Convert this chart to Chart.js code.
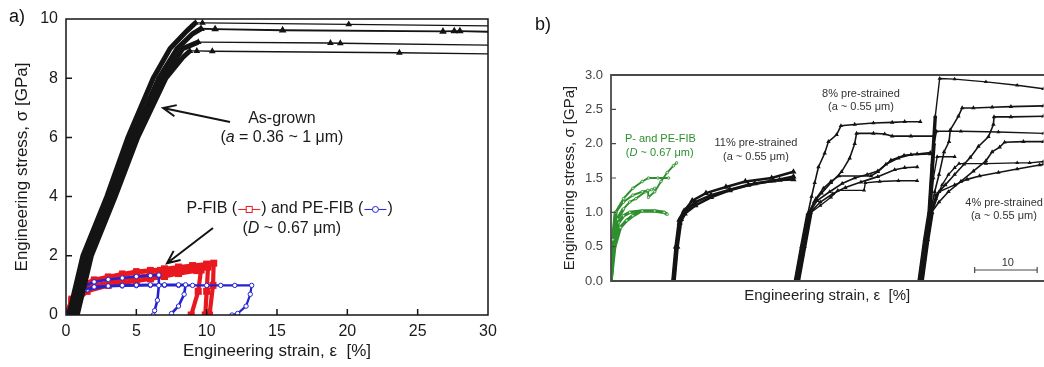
<!DOCTYPE html>
<html>
<head>
<meta charset="utf-8">
<script src="https://cdn.jsdelivr.net/npm/chart.js@4.4.1/dist/chart.umd.min.js"></script>
<style>
  html, body { margin: 0; padding: 0; background: #fff; overflow: hidden; width: 1044px; height: 367px; }
  canvas { position: absolute; top: 0; }
  .panel { position: absolute; font-family: "Liberation Sans", Arial, sans-serif; font-size: 18px; color: #111; }
</style>
</head>
<body>
<canvas id="grafico-a" width="520" height="367" style="left:0"></canvas>
<canvas id="grafico-b" width="530" height="367" style="left:520px"></canvas>
<div class="panel" style="left:9px;top:6px">a)</div>
<div class="panel" style="left:535px;top:14px">b)</div>
<script>
// ---------- panel a) : strain [%], stress [GPa] ----------
const ticksA_x = [0, 5, 10, 15, 20, 25, 30];
const ticksA_y = [0, 2, 4, 6, 8, 10];

// as-grown, elastic rise (thick band)
const subidaA = [[0.2,0],[1.2,2],[2.9,4],[4.4,6],[6.2,8],[7.4,9],[8.6,9.6],[9.2,9.87]];
const subidaB = [[0.4,0],[1.4,2],[3.1,4],[4.7,6],[6.6,8],[7.9,9],[9.0,9.5],[9.6,9.67]];
const subidaC = [[0.6,0],[1.6,2],[3.3,4],[4.9,6],[6.9,8],[8.3,9],[9.4,9.22]];
const subidaD = [[0.8,0],[1.8,2],[3.5,4],[5.1,6],[7.1,8],[8.3,8.7],[8.8,8.92]];
// as-grown, plateaus after burst
const mesetaA = [[9.2,9.87],[9.7,9.87],[20.1,9.82],[30,9.77]];
const mesetaB = [[9.6,9.67],[10.6,9.66],[15.4,9.62],[26.8,9.58],[27.6,9.59],[28.0,9.59],[30,9.57]];
const mesetaC = [[9.4,9.22],[18.8,9.19],[19.5,9.18],[30,9.12]];
const mesetaD = [[8.8,8.92],[9.3,8.92],[10.4,8.91],[23.7,8.86],[30,8.82]];
// P-FIB (red, squares)
const pfibA = [[0,0],[0.4,0.5],[1,0.9],[2,1.15],[3,1.26],[4,1.35],[5,1.43],[6,1.5],[7,1.56],[8,1.62],[9,1.67],[10,1.72],[10.5,1.75],[10.45,1.0],[10.2,0]];
const pfibB = [[0,0],[0.5,0.5],[1.2,0.85],[2,1.0],[3,1.1],[4,1.2],[5,1.28],[6,1.35],[7,1.43],[8,1.5],[9,1.56],[9.8,1.62],[10.1,1.62],[10.0,0.8],[9.9,0]];
const pfibC = [[0,0],[0.6,0.4],[1.5,0.8],[3,1.0],[4,1.08],[5,1.15],[6,1.22],[7,1.3],[8,1.4],[9.3,1.5],[9.6,1.52],[9.4,0.8],[8.9,0]];
const pfibD = [[0,0],[0.4,0.55],[1.0,1.0],[2,1.2],[3,1.3],[4,1.4],[5,1.48],[6,1.52],[6.7,1.52]];
// PE-FIB (blue, circles)
const pefibA = [[0,0],[0.5,0.5],[1.2,0.95],[2,1.12],[3,1.2],[4,1.25],[5,1.3],[6,1.33],[6.6,1.35],[6.6,1.0],[6.5,0.5],[6.3,0.15],[6.2,0]];
const pefibB = [[0,0],[0.6,0.5],[1.3,0.85],[2,0.95],[3,0.98],[4,1.0],[5,1.01],[6,1.02],[7,1.02],[8,1.02],[8.5,1.02],[8.4,0.7],[8.0,0.3],[7.5,0.05]];
const pefibC = [[0,0],[0.7,0.5],[1.5,0.85],[3,0.97],[4,0.98],[5,0.99],[6,1.0],[7,1.0],[8,1.0],[9,1.0],[10,1.0],[11,1.0],[12,1.0],[13.2,1.0],[13.1,0.7],[12.8,0.3],[12.2,0.05],[11.8,0]];

// ---------- panel b) : offset strain [%], stress [GPa] ----------
const ticksB_y = [0, 0.5, 1.0, 1.5, 2.0, 2.5, 3.0];

const verdeA = [[0,0],[0.3,0.6],[0.7,1.0],[2,1.2],[3.5,1.35],[5,1.45],[6,1.5],[7.5,1.5],[9.2,1.5]];
const verdeB = [[0,0],[0.3,0.6],[0.8,1.0],[2,1.15],[3.5,1.25],[5,1.3],[5.9,1.32],[6.0,1.22],[7,1.3],[8,1.45],[9,1.58],[10,1.68],[10.5,1.72]];
const verdeC = [[0,0],[0.4,0.55],[1.0,0.9],[2,1.05],[3,1.15],[4,1.2],[5.5,1.3],[6.5,1.33],[7,1.35]];
const verdeD = [[0,0],[0.5,0.6],[1.2,0.85],[2,0.95],[3,1.0],[5,1.02],[7,1.02],[8.5,1.0],[9,0.97]];
const verdeE = [[0,0],[0.6,0.5],[1.5,0.78],[2.5,0.88],[3.5,0.95],[4.5,1.0]];

const pre11A = [[9.9,0],[10.4,0.5],[10.95,0.89],[11.7,1.02],[13,1.17],[15.2,1.28],[18.4,1.37],[21.5,1.45],[25.7,1.5],[29.2,1.59]];
const pre11B = [[10.1,0],[10.6,0.5],[11.2,0.9],[12,1.03],[13.5,1.15],[16,1.25],[19,1.33],[22,1.4],[26,1.46],[29.2,1.52]];
const pre11C = [[10.0,0],[10.5,0.5],[11.0,0.85],[11.8,0.98],[13.5,1.1],[16,1.22],[19,1.32],[23,1.42],[27,1.47],[29.2,1.48]];

const pre8A = [[29.5,0],[30.5,0.5],[31.5,0.98],[32.1,1.23],[32.6,1.43],[33.2,1.66],[34.2,1.86],[34.8,2.03],[36.1,2.13],[36.8,2.26],[39,2.28],[42,2.3],[45,2.31],[47,2.32],[49.5,2.32]];
const pre8B = [[29.6,0],[30.6,0.5],[31.6,0.98],[32.5,1.15],[33.7,1.28],[35.2,1.43],[36.9,1.59],[38.2,1.79],[39,2.0],[39.3,2.15],[42,2.15],[43.8,2.14],[45,2.11],[48,2.11],[51.7,2.11]];
const pre8C = [[29.7,0],[30.7,0.5],[31.7,1.0],[32.8,1.2],[34,1.35],[35.2,1.45],[36.5,1.53],[41.6,1.53],[42.7,1.59],[44.8,1.76],[46.9,1.83],[49,1.85],[51.1,1.87]];
const pre8D = [[29.8,0],[30.8,0.5],[31.8,1.0],[33,1.17],[35,1.3],[37,1.42],[39,1.5],[41,1.55],[42.7,1.6],[44,1.7],[46,1.79],[48,1.84],[51.1,1.85]];
const pre8E = [[29.9,0],[30.9,0.5],[31.9,1.0],[33.5,1.15],[35.5,1.27],[37.5,1.36],[40,1.44],[42.7,1.52],[45.4,1.62],[47,1.65],[49,1.66]];
const pre8F = [[30,0],[31,0.5],[32,1.0],[33.5,1.1],[35.2,1.22],[36.3,1.32],[40.5,1.32],[40.7,1.43],[43,1.45],[46,1.46],[49,1.46]];

const pre4A = [[49.3,0],[50.2,0.6],[50.9,1.0],[51.4,1.7],[51.9,2.4],[52.6,2.95],[55,2.94],[60,2.9],[65,2.85],[69.2,2.8]];
const pre4B = [[49.4,0],[50.3,0.6],[51.0,1.0],[51.4,1.6],[51.7,2.0],[52.1,2.18],[56,2.18],[62,2.17],[69.2,2.15]];
const pre4C = [[49.5,0],[50.4,0.6],[51.1,1.0],[51.8,1.3],[52.5,1.55],[53.3,1.88],[54.1,2.03],[54.3,2.2],[55.6,2.4],[56.2,2.52],[58,2.52],[61,2.53],[64,2.54],[69.2,2.55]];
const pre4D = [[49.6,0],[50.5,0.6],[51.2,1.0],[52,1.25],[53.5,1.4],[55,1.55],[56.5,1.7],[57.5,1.8],[58.8,1.96],[60.4,2.1],[61.2,2.28],[61.3,2.39],[64,2.39],[69.2,2.4]];
const pre4E = [[49.7,0],[50.6,0.6],[51.3,1.0],[52.5,1.15],[54,1.3],[56,1.45],[58,1.6],[60,1.75],[61,1.88],[62.2,1.95],[63,2.02],[66,2.03],[69.2,2.03]];
const pre4F = [[49.5,0],[50.4,0.6],[51.1,1.0],[51.6,1.5],[52.2,1.81],[55,1.81]];
const pre4G = [[49.6,0],[50.5,0.6],[51.2,1.0],[52,1.2],[53,1.4],[54,1.55],[55,1.65],[55.7,1.71],[60,1.71],[65,1.72],[67,1.72],[69.2,1.74]];
const pre4H = [[49.8,0],[50.7,0.6],[51.4,1.0],[52.5,1.3],[55,1.4],[57,1.48],[59,1.53],[62,1.58],[65,1.63],[68.6,1.69],[69.2,1.7]];

Chart.defaults.font.family = '"Liberation Sans", Arial, sans-serif';

const NEGRO = '#141414';
const ROJO = '#e8181e';
const AZUL = '#2323d2';
const VERDE = '#2e8f2e';

function fuente(size, italic) {
    return (italic ? 'italic ' : '') + size + 'px "Liberation Sans", Arial, sans-serif';
}

// rich text: partes = [{t, i}] or {sym:'cuadro'|'circulo'}
function textoRico(ctx, partes, px, py, size, color, align) {
    const anchos = partes.map(p => {
        if (p.sym) return 24;
        ctx.font = fuente(size, p.i);
        return ctx.measureText(p.t).width;
    });
    const total = anchos.reduce((a, b) => a + b, 0);
    let x = align === 'left' ? px : px - total / 2;
    ctx.textAlign = 'left';
    ctx.textBaseline = 'middle';
    partes.forEach((p, k) => {
        if (p.sym) {
            const c = p.sym === 'cuadro' ? ROJO : AZUL;
            ctx.strokeStyle = c;
            ctx.lineWidth = 1;
            ctx.beginPath();
            ctx.moveTo(x + 1, py + 1);
            ctx.lineTo(x + 23, py + 1);
            ctx.stroke();
            ctx.fillStyle = '#fff';
            if (p.sym === 'cuadro') {
                ctx.fillRect(x + 9, py - 2, 6, 6);
                ctx.strokeRect(x + 9, py - 2, 6, 6);
            } else {
                ctx.beginPath();
                ctx.arc(x + 12, py + 1, 3, 0, Math.PI * 2);
                ctx.fill();
                ctx.stroke();
            }
        } else {
            ctx.font = fuente(size, p.i);
            ctx.fillStyle = color;
            ctx.fillText(p.t, x, py);
        }
        x += anchos[k];
    });
}

function flecha(ctx, x1, y1, x2, y2) {
    const ang = Math.atan2(y2 - y1, x2 - x1);
    ctx.strokeStyle = NEGRO;
    ctx.lineWidth = 2;
    ctx.beginPath();
    ctx.moveTo(x1, y1);
    ctx.lineTo(x2, y2);
    ctx.moveTo(x2 - 14 * Math.cos(ang - 0.42), y2 - 14 * Math.sin(ang - 0.42));
    ctx.lineTo(x2, y2);
    ctx.lineTo(x2 - 14 * Math.cos(ang + 0.42), y2 - 14 * Math.sin(ang + 0.42));
    ctx.stroke();
}

function linea(data, color, width, extra) {
    return Object.assign({
        data: data,
        borderColor: color,
        backgroundColor: color,
        borderWidth: width,
        pointRadius: 0,
        fill: false,
        tension: 0
    }, extra || {});
}

const decorA = {
    id: 'decorA',
    afterDatasetsDraw(chart) {
        const { ctx, chartArea: { left, right, top, bottom }, scales: { x, y } } = chart;
        ctx.save();
        ctx.strokeStyle = NEGRO;
        ctx.lineWidth = 1.5;
        ctx.strokeRect(left, top, right - left, bottom - top);
        ctx.beginPath();
        ticksA_x.slice(1, -1).forEach(v => {
            const px = x.getPixelForValue(v);
            ctx.moveTo(px, bottom);
            ctx.lineTo(px, bottom - 6);
        });
        ticksA_y.slice(1, -1).forEach(v => {
            const py = y.getPixelForValue(v);
            ctx.moveTo(left, py);
            ctx.lineTo(left + 6, py);
        });
        ctx.stroke();

        const X = v => x.getPixelForValue(v);
        const Y = v => y.getPixelForValue(v);
        flecha(ctx, X(11.66), Y(6.52), X(6.9), Y(6.99));
        flecha(ctx, X(10.45), Y(2.94), X(7.18), Y(1.75));
        textoRico(ctx, [{ t: 'As-grown' }], X(15.35), Y(6.62), 16, '#1a1a1a');
        textoRico(ctx, [{ t: '(' }, { t: 'a', i: true }, { t: ' = 0.36 ~ 1 μm)' }], X(15.35), Y(5.98), 16, '#1a1a1a');
        textoRico(ctx, [{ t: 'P-FIB (' }, { sym: 'cuadro' }, { t: ') and PE-FIB (' }, { sym: 'circulo' }, { t: ')' }], X(15.9), Y(3.6), 16, '#1a1a1a');
        textoRico(ctx, [{ t: '(' }, { t: 'D', i: true }, { t: ' ~ 0.67 μm)' }], X(16.05), Y(2.93), 16, '#1a1a1a');
        ctx.restore();
    }
};

const decorB = {
    id: 'decorB',
    afterDatasetsDraw(chart) {
        const { ctx, chartArea: { left, right, top, bottom }, scales: { x, y } } = chart;
        const X = v => x.getPixelForValue(v);
        const Y = v => y.getPixelForValue(v);
        ctx.save();
        ctx.strokeStyle = '#4a4a4a';
        ctx.lineWidth = 1.8;
        ctx.beginPath();
        ctx.moveTo(chart.width, top);
        ctx.lineTo(left, top);
        ctx.lineTo(left, bottom);
        ctx.lineTo(chart.width, bottom);
        ctx.stroke();
        ctx.lineWidth = 1.2;
        ctx.beginPath();
        ticksB_y.slice(1, -1).forEach(v => {
            ctx.moveTo(left, Y(v));
            ctx.lineTo(left + 5, Y(v));
        });
        // scale bar, 10 % strain
        ctx.moveTo(X(58.2), Y(0.16));
        ctx.lineTo(X(68.2), Y(0.16));
        ctx.moveTo(X(58.2), Y(0.16) - 3);
        ctx.lineTo(X(58.2), Y(0.16) + 3);
        ctx.moveTo(X(68.2), Y(0.16) - 3);
        ctx.lineTo(X(68.2), Y(0.16) + 3);
        ctx.stroke();
        textoRico(ctx, [{ t: '10' }], X(63.5), Y(0.262), 11, '#333');

        textoRico(ctx, [{ t: 'P- and PE-FIB' }], X(7.9), Y(2.07), 11, VERDE);
        textoRico(ctx, [{ t: '(' }, { t: 'D', i: true }, { t: ' ~ 0.67 μm)' }], X(7.8), Y(1.86), 11, VERDE);
        textoRico(ctx, [{ t: '11% pre-strained' }], X(23.2), Y(2.01), 11, '#333');
        textoRico(ctx, [{ t: '(a ~ 0.55 μm)' }], X(23.2), Y(1.81), 11, '#333');
        textoRico(ctx, [{ t: '8% pre-strained' }], X(40), Y(2.72), 11, '#333');
        textoRico(ctx, [{ t: '(a ~ 0.55 μm)' }], X(40), Y(2.53), 11, '#333');
        textoRico(ctx, [{ t: '4% pre-strained' }], X(56.7), Y(1.14), 11, '#333', 'left');
        textoRico(ctx, [{ t: '(a ~ 0.55 μm)' }], X(57.6), Y(0.95), 11, '#333', 'left');
        ctx.restore();
    }
};

const marcaMeseta = c => (c.raw && c.raw[0] >= 30 ? 0 : 2.6);
const rojo = (data, w) => linea(data, ROJO, w, { pointRadius: 2, pointStyle: 'rect', pointBackgroundColor: '#f7b0b0', pointBorderColor: ROJO });
const azul = (data, w) => linea(data, AZUL, w, { pointRadius: 2.2, pointStyle: 'circle', pointBackgroundColor: '#fff', pointBorderColor: AZUL, pointBorderWidth: 1 });

new Chart(document.querySelector('#grafico-a'), {
    type: 'line',
    data: {
        datasets: [
            linea(subidaA, NEGRO, 5),
            linea(subidaB, NEGRO, 5),
            linea(subidaC, NEGRO, 5),
            linea(subidaD, NEGRO, 5),
            linea(mesetaA, NEGRO, 1.3, { pointRadius: marcaMeseta, pointStyle: 'triangle' }),
            linea(mesetaB, NEGRO, 1.8, { pointRadius: marcaMeseta, pointStyle: 'triangle' }),
            linea(mesetaC, NEGRO, 1.3, { pointRadius: marcaMeseta, pointStyle: 'triangle' }),
            linea(mesetaD, NEGRO, 1.3, { pointRadius: marcaMeseta, pointStyle: 'triangle' }),
            azul(pefibA, 2.6),
            azul(pefibB, 2.6),
            azul(pefibC, 2.2),
            rojo(pfibA, 4.2),
            rojo(pfibB, 4.2),
            rojo(pfibC, 4.2),
            rojo(pfibD, 3.4)
        ]
    },
    options: {
        responsive: false,
        animation: false,
        layout: { padding: { left: 8, top: 19, right: 32, bottom: 1 } },
        scales: {
            x: {
                type: 'linear', min: 0, max: 30,
                afterBuildTicks: s => { s.ticks = ticksA_x.map(v => ({ value: v })); },
                ticks: { padding: 7, color: '#1a1a1a', font: { size: 16 } },
                grid: { display: false, drawTicks: false },
                border: { display: false },
                title: { display: true, text: 'Engineering strain, ε  [%]', color: '#1a1a1a', font: { size: 17 }, padding: { top: 4, bottom: 4 } },
                afterFit: s => { s.height = 51; }
            },
            y: {
                type: 'linear', min: 0, max: 10,
                afterBuildTicks: s => { s.ticks = ticksA_y.map(v => ({ value: v })); },
                ticks: { padding: 8, color: '#1a1a1a', font: { size: 16 } },
                grid: { display: false, drawTicks: false },
                border: { display: false },
                title: { display: true, text: 'Engineering stress, σ [GPa]', color: '#1a1a1a', font: { size: 17 }, padding: { top: 4, bottom: 4 } },
                afterFit: s => { s.width = 58; }
            }
        },
        plugins: { legend: { display: false }, tooltip: { enabled: false } }
    },
    plugins: [decorA]
});

// thick elastic part, thinner afterwards
const grosor = w => c => {
    const dy = c.p1.parsed.y - c.p0.parsed.y;
    const dx = Math.abs(c.p1.parsed.x - c.p0.parsed.x) || 0.01;
    return (c.p1.parsed.y <= 1.05 || dy / dx > 1.3) ? 3.4 : w;
};
const negroB = (data, w) => linea(data, NEGRO, w, { segment: { borderWidth: grosor(w) }, pointRadius: 1, pointStyle: 'triangle' });
const verdeB_ = data => linea(data, VERDE, 1.9, { segment: { borderWidth: grosor(1.9) }, pointRadius: 1.3, pointStyle: 'circle', pointBackgroundColor: '#cfe8cf', pointBorderColor: VERDE, pointBorderWidth: 0.8 });

new Chart(document.querySelector('#grafico-b'), {
    type: 'line',
    data: {
        datasets: [
            verdeB_(verdeA), verdeB_(verdeB), verdeB_(verdeC), verdeB_(verdeD), verdeB_(verdeE),
            negroB(pre11A, 2.6), negroB(pre11B, 2.6), negroB(pre11C, 2.6),
            negroB(pre8A, 1.6), negroB(pre8B, 1.6), negroB(pre8C, 1.6), negroB(pre8D, 1.6), negroB(pre8E, 1.6), negroB(pre8F, 1.4),
            negroB(pre4A, 1.4), negroB(pre4B, 1.4), negroB(pre4C, 1.6), negroB(pre4D, 1.6), negroB(pre4E, 1.6),
            negroB(pre4F, 1.4), negroB(pre4G, 1.4), negroB(pre4H, 1.6)
        ]
    },
    options: {
        responsive: false,
        animation: false,
        layout: { padding: { left: 37, top: 75, right: 3, bottom: 58 } },
        scales: {
            x: {
                type: 'linear', min: 0, max: 69.2,
                ticks: { display: false },
                grid: { display: false, drawTicks: false },
                border: { display: false },
                title: { display: true, text: 'Engineering strain, ε  [%]', color: '#222', font: { size: 15 }, padding: { top: 4, bottom: 4 } },
                afterFit: s => { s.height = 28; }
            },
            y: {
                type: 'linear', min: 0, max: 3,
                afterBuildTicks: s => { s.ticks = ticksB_y.map(v => ({ value: v })); },
                ticks: { padding: 8, color: '#444', font: { size: 13 }, callback: v => Number(v).toFixed(1) },
                grid: { display: false, drawTicks: false },
                border: { display: false },
                title: { display: true, text: 'Engineering stress, σ [GPa]', color: '#222', font: { size: 15 }, padding: { top: 4, bottom: 4 } },
                afterFit: s => { s.width = 54; }
            }
        },
        plugins: { legend: { display: false }, tooltip: { enabled: false } }
    },
    plugins: [decorB]
});
</script>
</body>
</html>
